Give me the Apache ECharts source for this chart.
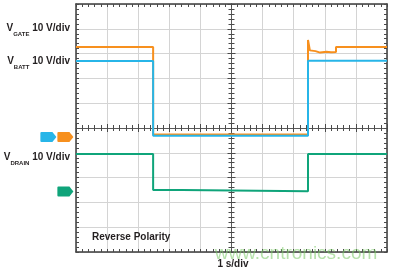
<!DOCTYPE html>
<html>
<head>
<meta charset="utf-8">
<script src="https://cdn.jsdelivr.net/npm/echarts@6/dist/echarts.min.js"></script>
<style>
  html, body { margin: 0; padding: 0; background: #fff; }
  #main { width: 393px; height: 270px; }
</style>
</head>
<body>
<div id="main"></div>
<script>
// time in seconds relative to the centre of the screen (1 s/div), level in divisions
var gateTime = [-5, -2.52, -2.52, 2.46, 2.46, 2.52, 2.7, 2.85, 3.05, 3.2, 3.36, 3.36, 5];
var gateDiv  = [3.27, 3.27, -0.26, -0.26, 3.55, 3.13, 3.1, 3.04, 3.07, 3.05, 3.06, 3.27, 3.27];

var battTime = [-5, -2.52, -2.52, 2.46, 2.46, 5];
var battDiv  = [2.70, 2.70, -0.31, -0.31, 2.71, 2.71];

var drainTime = [-5, -2.52, -2.52, -1.59, -1.59, 2.46, 2.46, 5];
var drainDiv  = [-1.05, -1.05, -2.50, -2.50, -2.55, -2.55, -1.05, -1.05];

// ground reference arrows on the left edge
var groundNames = ['VBATT', 'VGATE', 'VDRAIN'];
var groundPos   = [0.62, 1.47, 1.47];
var groundDiv   = [-0.36, -0.36, -2.56];

var colors = { gate: '#f7901e', batt: '#27b5e8', drain: '#0fa47a' };
var font = '"Liberation Sans", Arial, sans-serif';

function pairs(xs, ys) {
  return xs.map(function (x, i) { return [x, ys[i]]; });
}

function frameAxis(position, onZero, withSplit, tickLen) {
  return {
    type: 'value',
    min: -5,
    max: 5,
    interval: 1,
    position: position,
    gridIndex: 0,
    axisLine: { show: true, onZero: onZero, onZeroAxisIndex: 0,
      lineStyle: { color: onZero ? '#5a5a5a' : '#3c3c3c', width: onZero ? 1 : 1.5 } },
    axisTick: { show: true, inside: true, length: tickLen,
      lineStyle: { color: '#4a4a4a', width: 1 } },
    minorTick: { show: true, splitNumber: 5, length: 3,
      lineStyle: { color: '#4a4a4a', width: 1 } },
    axisLabel: { show: false },
    splitLine: { show: withSplit, lineStyle: { color: '#d4d4d4', width: 1 } },
    minorSplitLine: { show: false }
  };
}

function label(sub, y) {
  return {
    type: 'text',
    z: 100,
    style: {
      x: 70,
      y: y,
      align: 'right',
      verticalAlign: 'middle',
      text: '{v|V}{s|' + sub + '}{v| 10 V/div}',
      rich: {
        v: { fontSize: 10, fontWeight: 'bold', fontFamily: font, lineHeight: 12, fill: '#231f20' },
        s: { fontSize: 6, fontWeight: 'bold', fontFamily: font, lineHeight: 6,
             padding: [12, 0, 0, 0], fill: '#231f20' }
      }
    }
  };
}

var chart = echarts.init(document.getElementById('main'), null, { renderer: 'canvas' });

var option = {
  animation: false,
  backgroundColor: '#ffffff',
  grid: [
    { left: 76, top: 4, right: 6, bottom: 18, containLabel: false, outerBoundsMode: 'none' },
    { left: 36, top: 4, width: 40, bottom: 18, containLabel: false, outerBoundsMode: 'none' }
  ],
  xAxis: [
    frameAxis('bottom', false, true, 3),
    frameAxis('top', false, false, 3),
    frameAxis('bottom', true, false, 4),
    frameAxis('top', true, false, 4),
    { type: 'value', gridIndex: 1, min: 0, max: 2, show: false }
  ],
  yAxis: [
    frameAxis('left', false, true, 3),
    frameAxis('right', false, false, 3),
    frameAxis('left', true, false, 4),
    frameAxis('right', true, false, 4),
    { type: 'value', gridIndex: 1, min: -5, max: 5, show: false }
  ],
  series: [
    {
      name: 'VGATE',
      type: 'line',
      xAxisIndex: 0,
      yAxisIndex: 0,
      showSymbol: false,
      data: pairs(gateTime, gateDiv),
      lineStyle: { color: colors.gate, width: 2 },
      z: 3
    },
    {
      name: 'VBATT',
      type: 'line',
      xAxisIndex: 0,
      yAxisIndex: 0,
      showSymbol: false,
      data: pairs(battTime, battDiv),
      lineStyle: { color: colors.batt, width: 2 },
      z: 4
    },
    {
      name: 'VDRAIN',
      type: 'line',
      xAxisIndex: 0,
      yAxisIndex: 0,
      showSymbol: false,
      data: pairs(drainTime, drainDiv),
      lineStyle: { color: colors.drain, width: 2 },
      z: 3
    },
    {
      name: 'ground',
      type: 'scatter',
      xAxisIndex: 4,
      yAxisIndex: 4,
      symbol: 'path://M1,0 L12,0 L16,5 L12,10 L1,10 Q0,10 0,9 L0,1 Q0,0 1,0 Z',
      symbolSize: [16, 10],
      silent: true,
      data: groundNames.map(function (n, i) {
        var c = n === 'VBATT' ? colors.batt : (n === 'VGATE' ? colors.gate : colors.drain);
        return { name: n, value: [groundPos[i], groundDiv[i]], itemStyle: { color: c, opacity: 1 } };
      })
    }
  ],
  graphic: [
    label('GATE', 28),
    label('BATT', 61.5),
    label('DRAIN', 157),
    {
      type: 'text', z: 100,
      style: { x: 92, y: 237, align: 'left', verticalAlign: 'middle', text: 'Reverse Polarity',
        fontSize: 10, fontWeight: 'bold', fontFamily: font, fill: '#231f20' }
    },
    {
      type: 'text', z: 100,
      style: { x: 233, y: 264, align: 'center', verticalAlign: 'middle', text: '1 s/div',
        fontSize: 10, fontWeight: 'bold', fontFamily: font, fill: '#231f20' }
    },
    {
      type: 'text', z: 120,
      style: { x: 296, y: 254, align: 'center', verticalAlign: 'middle', text: 'www.cntronics.com',
        fontSize: 19, fontFamily: font, fill: 'rgba(120,200,100,0.55)' }
    }
  ]
};

chart.setOption(option);
</script>
</body>
</html>
